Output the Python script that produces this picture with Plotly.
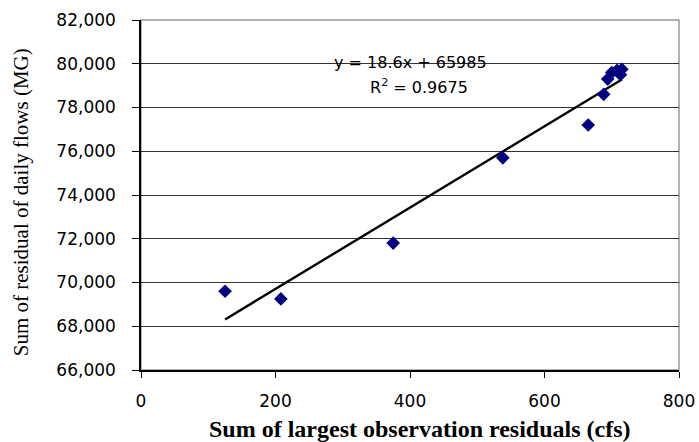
import plotly.graph_objects as go

# Data
x_vals = [125, 208, 375, 538, 665, 688, 694, 700, 708, 715, 713]
y_vals = [69600, 69250, 71800, 75700, 77200, 78600, 79300, 79600, 79700, 79750, 79500]

slope = 18.6
intercept = 65985
r2_text = "0.9675"

x_ticks = [0, 200, 400, 600, 800]
y_ticks = [66000, 68000, 70000, 72000, 74000, 76000, 78000, 80000, 82000]

x_title = "<b>Sum of largest observation residuals (cfs)</b>"
y_title = "Sum of residual of daily flows (MG)"

SANS = "DejaVu Sans, Arial"
SERIF = "Liberation Serif, Times New Roman"

fig = go.Figure()

x_line = [min(x_vals), max(x_vals)]
y_line = [slope * v + intercept for v in x_line]
fig.add_trace(go.Scatter(x=x_line, y=y_line, mode="lines",
                         line=dict(color="black", width=2.4), hoverinfo="skip"))

fig.add_trace(go.Scatter(x=x_vals, y=y_vals, mode="markers",
                         marker=dict(symbol="diamond", color="#000080", size=10.5,
                                     line=dict(width=0))))

fig.add_annotation(x=0.501, y=0.88, xref="paper", yref="paper",
                   xanchor="center", yanchor="middle",
                   text="y = 18.6x + 65985", showarrow=False,
                   font=dict(family=SANS, size=16, color="black"))
fig.add_annotation(x=0.516, y=0.809, xref="paper", yref="paper",
                   xanchor="center", yanchor="middle",
                   text="R<sup>2</sup> = " + r2_text, showarrow=False,
                   font=dict(family=SANS, size=16, color="black"))

# axis titles
fig.add_annotation(x=0.518, y=-0.169, xref="paper", yref="paper",
                   xanchor="center", yanchor="middle",
                   text=x_title, showarrow=False,
                   font=dict(family=SERIF, size=24, color="black"))
fig.add_annotation(x=-0.2226, y=0.48, xref="paper", yref="paper",
                   xanchor="center", yanchor="middle", textangle=-90,
                   text=y_title, showarrow=False,
                   font=dict(family=SERIF, size=21, color="black"))

# plot area gray border
fig.add_shape(type="rect", xref="paper", yref="paper", x0=0, y0=0, x1=1, y1=1,
              line=dict(color="#999999", width=1.5), layer="below")

fig.update_layout(
    width=699, height=442,
    margin=dict(l=141, r=20, t=20, b=72),
    paper_bgcolor="white", plot_bgcolor="white",
    showlegend=False,
    font=dict(family=SANS, size=15, color="black"),
)
fig.update_xaxes(range=[0, 800], tickvals=x_ticks, ticks="outside", ticklen=6,
                 tickcolor="black", showline=True, linecolor="black", linewidth=1.5,
                 showgrid=False, zeroline=False, ticklabelstandoff=9,
                 automargin=False,
                 tickfont=dict(family=SANS, size=17))
fig.update_yaxes(range=[66000, 82000], tickvals=y_ticks, tickformat=",",
                 ticks="outside", ticklen=7, tickcolor="black",
                 showline=True, linecolor="black", linewidth=1.5,
                 showgrid=True, gridcolor="#333333", gridwidth=1, zeroline=False,
                 ticklabelstandoff=13, automargin=False,
                 tickfont=dict(family=SANS, size=17))

fig.write_html("out.html")
